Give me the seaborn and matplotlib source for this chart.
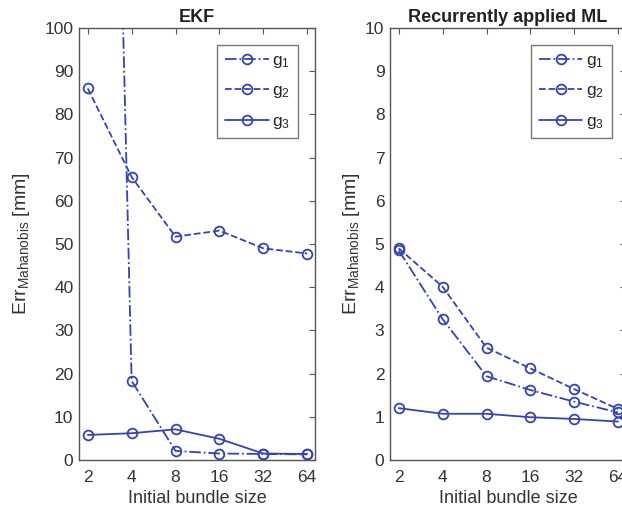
import numpy as np
import pandas as pd
import matplotlib
matplotlib.use("Agg")
import matplotlib.pyplot as plt
import seaborn as sns

bundle = [2, 4, 8, 16, 32, 64]
series = ["g$_1$", "g$_2$", "g$_3$"]
ekf_g1 = [440, 18.3, 2.1, 1.5, 1.4, 1.3]
ekf_g2 = [86.0, 65.5, 51.7, 53.1, 49.0, 47.8]
ekf_g3 = [5.8, 6.2, 7.1, 4.9, 1.5, 1.4]
ml_g1 = [4.85, 3.26, 1.94, 1.62, 1.35, 1.1]
ml_g2 = [4.9, 4.01, 2.6, 2.12, 1.64, 1.18]
ml_g3 = [1.2, 1.07, 1.07, 0.99, 0.95, 0.89]
titles = ["EKF", "Recurrently applied ML"]
ylims = [(0, 100), (0, 10)]
yticks = [list(range(0, 101, 10)), list(range(0, 11, 1))]

sns.set_theme(style="white")
plt.rcParams['font.family'] = ['Liberation Sans', 'DejaVu Sans']
plt.rcParams['mathtext.fontset'] = 'custom'
plt.rcParams['mathtext.rm'] = 'Liberation Sans'
plt.rcParams['mathtext.it'] = 'Liberation Sans'

color = '#3444b0'
styles = ['-.', '--', '-']

fig = plt.figure(figsize=(6.22, 5.13), dpi=100)
ax1 = fig.add_axes([79/622, 1-460/513, 236/622, 432/513])
ax2 = fig.add_axes([390/622, 1-460/513, 236/622, 432/513])

data = [[ekf_g1, ekf_g2, ekf_g3], [ml_g1, ml_g2, ml_g3]]
label_x = [-0.20, -0.12]
leg_x = [0.928, 0.94]
for ax, vals, title, yl, yt, lx, lgx in zip([ax1, ax2], data, titles, ylims, yticks, label_x, leg_x):
    for name, v, ls in zip(series, vals, styles):
        df = pd.DataFrame({"x": bundle, "y": v})
        sns.lineplot(data=df, x="x", y="y", ax=ax, color=color, linestyle=ls,
                     marker='o', markersize=7, markerfacecolor='none',
                     markeredgecolor=color, markeredgewidth=1.3, linewidth=1.3,
                     label=name)
    ax.set_xscale('log', base=2)
    ax.set_xlim(2**0.8, 2**6.18)
    ax.set_ylim(*yl)
    ax.set_xticks(bundle)
    ax.set_xticklabels([str(b) for b in bundle])
    ax.minorticks_off()
    ax.set_yticks(yt)
    ax.set_title(title, fontsize=13, fontweight='bold', pad=4, color='#222222')
    ax.set_xlabel("Initial bundle size", fontsize=13, color='#333333', labelpad=4)
    ax.set_ylabel("Err$_{Mahanobis}$ [mm]", fontsize=14, color='#333333')
    ax.yaxis.set_label_coords(lx, 0.5)
    ax.tick_params(direction='in', top=True, right=True, length=4, width=0.8,
                   labelsize=12.5, colors='#555555', labelcolor='#333333')
    ax.tick_params(axis='x', pad=7)
    ax.tick_params(axis='y', pad=4)
    for s in ax.spines.values():
        s.set_color('#555555')
        s.set_linewidth(1.0)
    leg = ax.legend(loc='upper right', bbox_to_anchor=(lgx, 0.96), fontsize=12.5,
                    frameon=True, fancybox=False, handlelength=2.5,
                    handletextpad=0.2, borderpad=0.45, labelspacing=0.75,
                    borderaxespad=0)
    leg.get_frame().set_edgecolor('#555555')
    leg.get_frame().set_linewidth(1.0)

fig.savefig("out.png", dpi=100)
